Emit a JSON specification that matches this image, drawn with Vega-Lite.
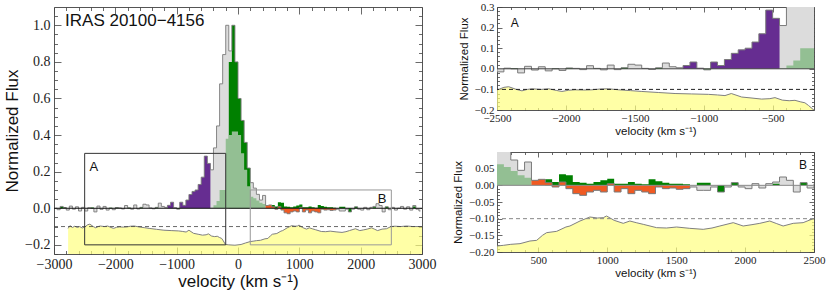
{
"$schema": "https://vega.github.io/schema/vega-lite/v6.json",
"padding": {"left": 3, "top": 0, "right": 3, "bottom": 2},
"background": "white",
"spacing": 15,
"config": {
  "view": {"stroke": "#555555", "strokeWidth": 1},
  "axis": {"domain": false, "grid": false, "labelFont": "Liberation Serif", "titleFont": "Liberation Sans", "titleFontWeight": "normal", "labelColor": "#222222", "titleColor": "#111111", "tickColor": "#444444", "labelFlush": false, "labelOverlap": false, "tickWidth": 0.8}
},
"datasets": {
  "spec": [
    {"v":-2975,"obs":0,"gr":0,"sg":0,"pu":0,"orn":0},
    {"v":-2925,"obs":-0.008,"gr":0,"sg":0,"pu":0,"orn":0},
    {"v":-2875,"obs":0.01,"gr":0.008,"sg":0,"pu":0,"orn":0},
    {"v":-2825,"obs":0.004,"gr":0.005,"sg":0,"pu":0,"orn":0},
    {"v":-2775,"obs":-0.01,"gr":0,"sg":0,"pu":0,"orn":0},
    {"v":-2725,"obs":0.012,"gr":0,"sg":0,"pu":0,"orn":0},
    {"v":-2675,"obs":-0.005,"gr":0,"sg":0,"pu":0,"orn":0},
    {"v":-2625,"obs":0.008,"gr":0,"sg":0,"pu":0,"orn":0},
    {"v":-2575,"obs":-0.015,"gr":0,"sg":0,"pu":0,"orn":0},
    {"v":-2525,"obs":0.005,"gr":0,"sg":0,"pu":0,"orn":0},
    {"v":-2475,"obs":-0.015,"gr":0,"sg":0,"pu":0,"orn":0},
    {"v":-2425,"obs":0.003,"gr":0,"sg":0,"pu":0,"orn":0},
    {"v":-2375,"obs":0,"gr":0.004,"sg":0,"pu":0,"orn":0},
    {"v":-2325,"obs":-0.02,"gr":0,"sg":0,"pu":0,"orn":0},
    {"v":-2275,"obs":0.012,"gr":0,"sg":0,"pu":0,"orn":0},
    {"v":-2225,"obs":-0.006,"gr":0,"sg":0,"pu":0,"orn":0},
    {"v":-2175,"obs":0.01,"gr":0,"sg":0,"pu":0,"orn":0},
    {"v":-2125,"obs":-0.01,"gr":0,"sg":0,"pu":0,"orn":0},
    {"v":-2075,"obs":0,"gr":0.003,"sg":0,"pu":0,"orn":0},
    {"v":-2025,"obs":-0.008,"gr":0,"sg":0,"pu":0,"orn":0},
    {"v":-1975,"obs":0.004,"gr":0.004,"sg":0,"pu":0,"orn":0},
    {"v":-1925,"obs":0.002,"gr":0,"sg":0,"pu":0,"orn":0},
    {"v":-1875,"obs":-0.004,"gr":0,"sg":0,"pu":0,"orn":0},
    {"v":-1825,"obs":0.015,"gr":0,"sg":0,"pu":0,"orn":0},
    {"v":-1775,"obs":0.002,"gr":0.003,"sg":0,"pu":0,"orn":0},
    {"v":-1725,"obs":-0.005,"gr":0,"sg":0,"pu":0,"orn":0},
    {"v":-1675,"obs":0.018,"gr":0,"sg":0,"pu":0,"orn":0},
    {"v":-1625,"obs":-0.004,"gr":0,"sg":0,"pu":0,"orn":0},
    {"v":-1575,"obs":0.005,"gr":0.005,"sg":0,"pu":0,"orn":0},
    {"v":-1525,"obs":0.022,"gr":0,"sg":0,"pu":0,"orn":0},
    {"v":-1475,"obs":0.018,"gr":0,"sg":0,"pu":0,"orn":0},
    {"v":-1425,"obs":0.002,"gr":0,"sg":0,"pu":0,"orn":0},
    {"v":-1375,"obs":-0.003,"gr":0,"sg":0,"pu":0,"orn":0},
    {"v":-1325,"obs":0.005,"gr":0.004,"sg":0,"pu":0,"orn":0},
    {"v":-1275,"obs":0.028,"gr":0,"sg":0,"pu":0,"orn":0},
    {"v":-1225,"obs":0.01,"gr":0,"sg":0,"pu":0,"orn":0},
    {"v":-1175,"obs":0.005,"gr":0,"sg":0,"pu":0,"orn":0},
    {"v":-1125,"obs":0.016,"gr":0,"sg":0,"pu":0.016,"orn":0},
    {"v":-1075,"obs":0.033,"gr":0,"sg":0,"pu":0.033,"orn":0},
    {"v":-1025,"obs":0.003,"gr":0,"sg":0,"pu":0.003,"orn":0},
    {"v":-975,"obs":-0.005,"gr":-0.004,"sg":0,"pu":0,"orn":0},
    {"v":-925,"obs":0.033,"gr":0,"sg":0,"pu":0.033,"orn":0},
    {"v":-875,"obs":0.016,"gr":0,"sg":0,"pu":0.016,"orn":0},
    {"v":-825,"obs":0.045,"gr":0,"sg":0,"pu":0.045,"orn":0},
    {"v":-775,"obs":0.075,"gr":0,"sg":0,"pu":0.075,"orn":0},
    {"v":-725,"obs":0.092,"gr":0,"sg":0,"pu":0.092,"orn":0},
    {"v":-675,"obs":0.1,"gr":0,"sg":0,"pu":0.1,"orn":0},
    {"v":-625,"obs":0.13,"gr":0,"sg":0,"pu":0.13,"orn":0},
    {"v":-575,"obs":0.17,"gr":0,"sg":0,"pu":0.17,"orn":0},
    {"v":-525,"obs":0.285,"gr":0,"sg":0,"pu":0.285,"orn":0},
    {"v":-475,"obs":0.245,"gr":0,"sg":0,"pu":0.245,"orn":0},
    {"v":-425,"obs":0.21,"gr":0,"sg":0.003,"pu":0,"orn":0},
    {"v":-375,"obs":0.33,"gr":0,"sg":0.016,"pu":0,"orn":0},
    {"v":-325,"obs":0.45,"gr":0,"sg":0.04,"pu":0,"orn":0},
    {"v":-275,"obs":0.68,"gr":0,"sg":0.1,"pu":0,"orn":0},
    {"v":-225,"obs":0.84,"gr":0,"sg":0.1,"pu":0,"orn":0},
    {"v":-175,"obs":1.0,"gr":0,"sg":0.38,"pu":0,"orn":0},
    {"v":-125,"obs":0.86,"gr":0.8,"sg":0.4,"pu":0,"orn":0},
    {"v":-75,"obs":1.0,"gr":1.0,"sg":0.42,"pu":0,"orn":0},
    {"v":-25,"obs":0.8,"gr":0.8,"sg":0.42,"pu":0,"orn":0},
    {"v":25,"obs":0.6,"gr":0.6,"sg":0.4,"pu":0,"orn":0},
    {"v":75,"obs":0.48,"gr":0.48,"sg":0.3,"pu":0,"orn":0},
    {"v":125,"obs":0.36,"gr":0.36,"sg":0.21,"pu":0,"orn":0},
    {"v":175,"obs":0.22,"gr":0.22,"sg":0.12,"pu":0,"orn":0},
    {"v":225,"obs":0.14,"gr":0,"sg":0.063,"pu":0,"orn":0},
    {"v":275,"obs":0.11,"gr":0,"sg":0.055,"pu":0,"orn":0},
    {"v":325,"obs":0.076,"gr":0,"sg":0.043,"pu":0,"orn":0},
    {"v":375,"obs":0.045,"gr":0,"sg":0.03,"pu":0,"orn":0},
    {"v":425,"obs":0.07,"gr":0,"sg":0.023,"pu":0,"orn":0},
    {"v":475,"obs":0.015,"gr":0,"sg":0,"pu":0,"orn":0.015},
    {"v":525,"obs":0.018,"gr":0,"sg":0,"pu":0,"orn":0.018},
    {"v":575,"obs":0.008,"gr":0.018,"sg":0,"pu":0,"orn":0.008},
    {"v":625,"obs":-0.005,"gr":0.01,"sg":0,"pu":0,"orn":-0.005},
    {"v":675,"obs":0.01,"gr":0.033,"sg":0,"pu":0,"orn":0.01},
    {"v":725,"obs":-0.01,"gr":0.03,"sg":0,"pu":0,"orn":-0.01},
    {"v":775,"obs":-0.025,"gr":0.01,"sg":0,"pu":0,"orn":-0.025},
    {"v":825,"obs":-0.03,"gr":0.008,"sg":0,"pu":0,"orn":-0.03},
    {"v":875,"obs":-0.02,"gr":0.005,"sg":0,"pu":0,"orn":-0.02},
    {"v":925,"obs":-0.015,"gr":0.01,"sg":0,"pu":0,"orn":-0.015},
    {"v":975,"obs":-0.02,"gr":0.015,"sg":0,"pu":0,"orn":-0.02},
    {"v":1025,"obs":0.005,"gr":0.02,"sg":0,"pu":0,"orn":0.005},
    {"v":1075,"obs":-0.02,"gr":0.005,"sg":0,"pu":0,"orn":-0.02},
    {"v":1125,"obs":-0.01,"gr":0.005,"sg":0,"pu":0,"orn":-0.01},
    {"v":1175,"obs":-0.025,"gr":0.01,"sg":0,"pu":0,"orn":-0.025},
    {"v":1225,"obs":-0.015,"gr":0.005,"sg":0,"pu":0,"orn":-0.015},
    {"v":1275,"obs":-0.02,"gr":0.003,"sg":0,"pu":0,"orn":-0.02},
    {"v":1325,"obs":-0.025,"gr":0.018,"sg":0,"pu":0,"orn":-0.025},
    {"v":1375,"obs":-0.005,"gr":0.012,"sg":0,"pu":0,"orn":-0.005},
    {"v":1425,"obs":-0.01,"gr":0.008,"sg":0,"pu":0,"orn":-0.01},
    {"v":1475,"obs":-0.008,"gr":0.005,"sg":0,"pu":0,"orn":-0.008},
    {"v":1525,"obs":-0.012,"gr":0.005,"sg":0,"pu":0,"orn":-0.012},
    {"v":1575,"obs":-0.01,"gr":0.003,"sg":0,"pu":0,"orn":-0.01},
    {"v":1625,"obs":-0.005,"gr":0,"sg":0,"pu":0,"orn":0},
    {"v":1675,"obs":-0.015,"gr":0.008,"sg":0,"pu":0,"orn":0},
    {"v":1725,"obs":-0.015,"gr":0.008,"sg":0,"pu":0,"orn":0},
    {"v":1775,"obs":-0.005,"gr":0,"sg":0,"pu":0,"orn":0},
    {"v":1825,"obs":-0.02,"gr":-0.02,"sg":0,"pu":0,"orn":0},
    {"v":1875,"obs":-0.005,"gr":0,"sg":0,"pu":0,"orn":0},
    {"v":1925,"obs":0.008,"gr":0.008,"sg":0,"pu":0,"orn":0},
    {"v":1975,"obs":-0.005,"gr":0,"sg":0,"pu":0,"orn":0},
    {"v":2025,"obs":-0.01,"gr":0,"sg":0,"pu":0,"orn":0},
    {"v":2075,"obs":0.005,"gr":0,"sg":0,"pu":0,"orn":0},
    {"v":2125,"obs":-0.008,"gr":0,"sg":0,"pu":0,"orn":0},
    {"v":2175,"obs":0.005,"gr":0,"sg":0,"pu":0,"orn":0},
    {"v":2225,"obs":0.01,"gr":0.005,"sg":0,"pu":0,"orn":0},
    {"v":2275,"obs":0.025,"gr":0,"sg":0,"pu":0,"orn":0},
    {"v":2325,"obs":0.015,"gr":0,"sg":0,"pu":0,"orn":0},
    {"v":2375,"obs":-0.02,"gr":0,"sg":0,"pu":0,"orn":0},
    {"v":2425,"obs":0.008,"gr":0.008,"sg":0,"pu":0,"orn":0},
    {"v":2475,"obs":-0.008,"gr":0,"sg":0,"pu":0,"orn":0},
    {"v":2525,"obs":0.005,"gr":0,"sg":0,"pu":0,"orn":0},
    {"v":2575,"obs":-0.01,"gr":0,"sg":0,"pu":0,"orn":0},
    {"v":2625,"obs":0,"gr":0,"sg":0,"pu":0,"orn":0},
    {"v":2675,"obs":0.01,"gr":0,"sg":0,"pu":0,"orn":0},
    {"v":2725,"obs":-0.005,"gr":0,"sg":0,"pu":0,"orn":0},
    {"v":2775,"obs":0.008,"gr":0,"sg":0,"pu":0,"orn":0},
    {"v":2825,"obs":-0.01,"gr":0,"sg":0,"pu":0,"orn":0},
    {"v":2875,"obs":0.015,"gr":0.01,"sg":0,"pu":0,"orn":0},
    {"v":2925,"obs":-0.005,"gr":0,"sg":0,"pu":0,"orn":0},
    {"v":2975,"obs":-0.015,"gr":0,"sg":0,"pu":0,"orn":0}
  ],
  "noise": [
    {"v":-2770,"n":-0.11},{"v":-2740,"n":-0.095},{"v":-2700,"n":-0.105},{"v":-2660,"n":-0.098},
    {"v":-2620,"n":-0.105},{"v":-2580,"n":-0.1},{"v":-2540,"n":-0.108},{"v":-2488,"n":-0.1},
    {"v":-2450,"n":-0.09},{"v":-2415,"n":-0.087},{"v":-2360,"n":-0.1},{"v":-2319,"n":-0.107},
    {"v":-2280,"n":-0.1},{"v":-2246,"n":-0.097},{"v":-2180,"n":-0.1},{"v":-2125,"n":-0.097},
    {"v":-2070,"n":-0.105},{"v":-2029,"n":-0.11},{"v":-1980,"n":-0.104},{"v":-1933,"n":-0.102},
    {"v":-1870,"n":-0.103},{"v":-1812,"n":-0.102},{"v":-1750,"n":-0.098},{"v":-1691,"n":-0.097},
    {"v":-1618,"n":-0.102},{"v":-1530,"n":-0.106},{"v":-1449,"n":-0.11},{"v":-1330,"n":-0.115},
    {"v":-1208,"n":-0.12},{"v":-1090,"n":-0.122},{"v":-966,"n":-0.124},{"v":-900,"n":-0.127},
    {"v":-846,"n":-0.13},{"v":-800,"n":-0.12},{"v":-725,"n":-0.137},{"v":-650,"n":-0.142},
    {"v":-580,"n":-0.147},{"v":-520,"n":-0.145},{"v":-483,"n":-0.14},{"v":-430,"n":-0.152},
    {"v":-380,"n":-0.155},{"v":-338,"n":-0.153},{"v":-300,"n":-0.16},{"v":-266,"n":-0.165},
    {"v":-240,"n":-0.178},{"v":-205,"n":-0.198},{"v":-150,"n":-0.2},{"v":-50,"n":-0.202},
    {"v":50,"n":-0.198},{"v":120,"n":-0.19},{"v":200,"n":-0.182},{"v":246,"n":-0.18},
    {"v":300,"n":-0.177},{"v":367,"n":-0.175},{"v":439,"n":-0.167},{"v":488,"n":-0.165},
    {"v":530,"n":-0.15},{"v":560,"n":-0.142},{"v":633,"n":-0.138},{"v":700,"n":-0.125},
    {"v":729,"n":-0.122},{"v":802,"n":-0.107},{"v":874,"n":-0.095},{"v":930,"n":-0.098},
    {"v":971,"n":-0.097},{"v":995,"n":-0.092},{"v":1050,"n":-0.105},{"v":1116,"n":-0.114},
    {"v":1164,"n":-0.107},{"v":1210,"n":-0.112},{"v":1261,"n":-0.117},{"v":1358,"n":-0.127},
    {"v":1430,"n":-0.128},{"v":1503,"n":-0.125},{"v":1599,"n":-0.129},{"v":1696,"n":-0.132},
    {"v":1760,"n":-0.128},{"v":1817,"n":-0.122},{"v":1914,"n":-0.112},{"v":1986,"n":-0.122},
    {"v":2050,"n":-0.118},{"v":2107,"n":-0.114},{"v":2179,"n":-0.107},{"v":2230,"n":-0.115},
    {"v":2276,"n":-0.122},{"v":2349,"n":-0.114},{"v":2421,"n":-0.112},{"v":2494,"n":-0.1},
    {"v":2560,"n":-0.098},{"v":2650,"n":-0.1},{"v":2750,"n":-0.097},{"v":2850,"n":-0.1},
    {"v":3000,"n":-0.1}
  ],
  "boxes": [
    {"box":"A","v0":-2500,"v1":-200,"f0":-0.2,"f1":0.3},
    {"box":"B","v0":200,"v1":2500,"f0":-0.2,"f1":0.1}
  ]
},
"hconcat": [
  {
    "width": 368, "height": 247,
    "resolve": {"axis": {"x": "independent", "y": "independent"}},
    "layer": [
      {"data": {"name": "noise"},
       "mark": {"type": "area", "color": "#ffff80", "clip": true, "line": {"color": "#808080", "strokeWidth": 1}},
       "encoding": {
         "x": {"field": "v", "type": "quantitative", "scale": {"domain": [-3000, 3000], "nice": false, "zero": false},
               "axis": {"orient": "bottom", "values": [-3000,-2000,-1000,0,1000,2000,3000], "format": "d", "tickSize": -7, "labelPadding": 10, "labelFontSize": 14, "title": "velocity (km s⁻¹)", "titleFontSize": 17, "titlePadding": 2}},
         "y": {"field": "n", "type": "quantitative", "scale": {"domain": [-0.25, 1.1], "nice": false, "zero": false},
               "axis": {"orient": "left", "values": [-0.2,0,0.2,0.4,0.6,0.8,1.0], "format": ".1f", "tickSize": -7, "labelPadding": 11, "labelFontSize": 14, "title": "Normalized Flux", "titleFontSize": 17, "titlePadding": 3}},
         "y2": {"datum": -1}}},
      {"data": {"values": [{}]},
       "mark": {"type": "rule", "strokeDash": [4, 3], "color": "#444444", "strokeWidth": 0.8},
       "encoding": {"y": {"datum": -0.1, "axis": null}}},
      {"data": {"name": "spec"},
       "mark": {"type": "area", "interpolate": "step", "color": "#dcdcdc", "clip": true},
       "encoding": {
         "x": {"field": "v", "type": "quantitative", "axis": {"orient": "top", "values": [-3000,-2000,-1000,0,1000,2000,3000], "labels": false, "tickSize": -7, "title": null}},
         "y": {"field": "obs", "type": "quantitative", "axis": {"orient": "right", "values": [-0.2,0,0.2,0.4,0.6,0.8,1.0], "labels": false, "tickSize": -7, "title": null}},
         "y2": {"datum": 0}}},
      {"data": {"name": "spec"},
       "mark": {"type": "area", "interpolate": "step", "color": "#008000", "clip": true},
       "encoding": {
         "x": {"field": "v", "type": "quantitative", "axis": {"orient": "bottom", "values": [-2800,-2600,-2400,-2200,-1800,-1600,-1400,-1200,-800,-600,-400,-200,200,400,600,800,1200,1400,1600,1800,2200,2400,2600,2800], "labels": false, "tickSize": -3.5, "title": null}},
         "y": {"field": "gr", "type": "quantitative", "axis": {"orient": "left", "values": [-0.25,-0.15,-0.1,-0.05,0.05,0.1,0.15,0.25,0.3,0.35,0.45,0.5,0.55,0.65,0.7,0.75,0.85,0.9,0.95,1.05], "labels": false, "tickSize": -3.5, "title": null}},
         "y2": {"datum": 0}}},
      {"data": {"name": "spec"},
       "mark": {"type": "area", "interpolate": "step", "color": "#93bf93", "clip": true},
       "encoding": {
         "x": {"field": "v", "type": "quantitative", "axis": {"orient": "top", "values": [-2800,-2600,-2400,-2200,-1800,-1600,-1400,-1200,-800,-600,-400,-200,200,400,600,800,1200,1400,1600,1800,2200,2400,2600,2800], "labels": false, "tickSize": -3.5, "title": null}},
         "y": {"field": "sg", "type": "quantitative", "axis": {"orient": "right", "values": [-0.25,-0.15,-0.1,-0.05,0.05,0.1,0.15,0.25,0.3,0.35,0.45,0.5,0.55,0.65,0.7,0.75,0.85,0.9,0.95,1.05], "labels": false, "tickSize": -3.5, "title": null}},
         "y2": {"datum": 0}}},
      {"data": {"name": "spec"},
       "mark": {"type": "area", "interpolate": "step", "color": "#662d91", "clip": true},
       "encoding": {"x": {"field": "v", "type": "quantitative", "axis": null}, "y": {"field": "pu", "type": "quantitative", "axis": null}, "y2": {"datum": 0}}},
      {"data": {"name": "spec"},
       "mark": {"type": "area", "interpolate": "step", "color": "#f05a22", "clip": true},
       "encoding": {"x": {"field": "v", "type": "quantitative", "axis": null}, "y": {"field": "orn", "type": "quantitative", "axis": null}, "y2": {"datum": 0}}},
      {"data": {"name": "spec"},
       "mark": {"type": "line", "interpolate": "step", "color": "#7a7a7a", "strokeWidth": 0.9, "clip": true},
       "encoding": {"x": {"field": "v", "type": "quantitative", "axis": null}, "y": {"field": "obs", "type": "quantitative", "axis": null}}},
      {"data": {"values": [{}]},
       "mark": {"type": "rule", "color": "#111111", "strokeWidth": 1},
       "encoding": {"y": {"datum": 0, "axis": null}}},
      {"data": {"name": "boxes"},
       "mark": {"type": "rect", "fillOpacity": 0, "strokeWidth": 1, "clip": true},
       "encoding": {
         "x": {"field": "v0", "type": "quantitative", "axis": null}, "x2": {"field": "v1"},
         "y": {"field": "f0", "type": "quantitative", "axis": null}, "y2": {"field": "f1"},
         "stroke": {"field": "box", "type": "nominal", "scale": {"domain": ["A", "B"], "range": ["#333333", "#999999"]}, "legend": null}}},
      {"data": {"values": [{}]},
       "mark": {"type": "text", "text": "IRAS 20100−4156", "font": "Liberation Sans", "fontSize": 17, "align": "left", "baseline": "middle", "color": "#111111"},
       "encoding": {"x": {"datum": -2820, "axis": null}, "y": {"datum": 1.025, "axis": null}}},
      {"data": {"values": [{}]},
       "mark": {"type": "text", "text": "A", "font": "Liberation Sans", "fontSize": 13, "align": "center", "baseline": "middle", "color": "#111111"},
       "encoding": {"x": {"datum": -2350, "axis": null}, "y": {"datum": 0.225, "axis": null}}},
      {"data": {"values": [{}]},
       "mark": {"type": "text", "text": "B", "font": "Liberation Sans", "fontSize": 13, "align": "center", "baseline": "middle", "color": "#111111"},
       "encoding": {"x": {"datum": 2350, "axis": null}, "y": {"datum": 0.05, "axis": null}}}
    ]
  },
  {
    "spacing": 14,
    "vconcat": [
      {
        "width": 317, "height": 103,
        "resolve": {"axis": {"x": "independent", "y": "independent"}},
        "layer": [
          {"data": {"name": "noise"},
           "mark": {"type": "area", "color": "#ffff80", "clip": true, "line": {"color": "#808080", "strokeWidth": 1}},
           "encoding": {
             "x": {"field": "v", "type": "quantitative", "scale": {"domain": [-2500, -200], "nice": false, "zero": false},
                   "axis": {"orient": "bottom", "values": [-2500,-2000,-1500,-1000,-500], "format": "d", "tickSize": -5, "labelPadding": 7, "labelFontSize": 11, "title": "velocity (km s⁻¹)", "titleFontSize": 11.5, "titlePadding": 2}},
             "y": {"field": "n", "type": "quantitative", "scale": {"domain": [-0.2, 0.3], "nice": false, "zero": false},
                   "axis": {"orient": "left", "values": [-0.2,-0.1,0,0.1,0.2,0.3], "format": ".1f", "tickSize": -5, "labelPadding": 8, "labelFontSize": 11, "title": "Normalized Flux", "titleFontSize": 11.5, "titlePadding": 5}},
             "y2": {"datum": -1}}},
          {"data": {"values": [{}]},
           "mark": {"type": "rule", "strokeDash": [4, 3], "color": "#222222", "strokeWidth": 1},
           "encoding": {"y": {"datum": -0.1, "axis": null}}},
          {"data": {"name": "spec"},
           "mark": {"type": "area", "interpolate": "step", "color": "#dcdcdc", "clip": true},
           "encoding": {
             "x": {"field": "v", "type": "quantitative", "axis": {"orient": "top", "values": [-2500,-2000,-1500,-1000,-500], "labels": false, "tickSize": -5, "title": null}},
             "y": {"field": "obs", "type": "quantitative", "axis": {"orient": "right", "values": [-0.2,-0.1,0,0.1,0.2,0.3], "labels": false, "tickSize": -5, "title": null}},
             "y2": {"datum": 0}}},
          {"data": {"name": "spec"},
           "mark": {"type": "area", "interpolate": "step", "color": "#008000", "clip": true},
           "encoding": {
             "x": {"field": "v", "type": "quantitative", "axis": {"orient": "bottom", "values": [-2400,-2300,-2200,-2100,-1900,-1800,-1700,-1600,-1400,-1300,-1200,-1100,-900,-800,-700,-600,-400,-300], "labels": false, "tickSize": -2.5, "title": null}},
             "y": {"field": "gr", "type": "quantitative", "axis": {"orient": "left", "values": [-0.18,-0.16,-0.14,-0.12,-0.08,-0.06,-0.04,-0.02,0.02,0.04,0.06,0.08,0.12,0.14,0.16,0.18,0.22,0.24,0.26,0.28], "labels": false, "tickSize": -2.5, "title": null}},
             "y2": {"datum": 0}}},
          {"data": {"name": "spec"},
           "mark": {"type": "area", "interpolate": "step", "color": "#93bf93", "clip": true},
           "encoding": {
             "x": {"field": "v", "type": "quantitative", "axis": {"orient": "top", "values": [-2400,-2300,-2200,-2100,-1900,-1800,-1700,-1600,-1400,-1300,-1200,-1100,-900,-800,-700,-600,-400,-300], "labels": false, "tickSize": -2.5, "title": null}},
             "y": {"field": "sg", "type": "quantitative", "axis": {"orient": "right", "values": [-0.18,-0.16,-0.14,-0.12,-0.08,-0.06,-0.04,-0.02,0.02,0.04,0.06,0.08,0.12,0.14,0.16,0.18,0.22,0.24,0.26,0.28], "labels": false, "tickSize": -2.5, "title": null}},
             "y2": {"datum": 0}}},
          {"data": {"name": "spec"},
           "mark": {"type": "area", "interpolate": "step", "color": "#662d91", "clip": true},
           "encoding": {"x": {"field": "v", "type": "quantitative", "axis": null}, "y": {"field": "pu", "type": "quantitative", "axis": null}, "y2": {"datum": 0}}},
          {"data": {"name": "spec"},
           "mark": {"type": "area", "interpolate": "step", "color": "#f05a22", "clip": true},
           "encoding": {"x": {"field": "v", "type": "quantitative", "axis": null}, "y": {"field": "orn", "type": "quantitative", "axis": null}, "y2": {"datum": 0}}},
          {"data": {"name": "spec"},
           "mark": {"type": "line", "interpolate": "step", "color": "#7a7a7a", "strokeWidth": 1, "clip": true},
           "encoding": {"x": {"field": "v", "type": "quantitative", "axis": null}, "y": {"field": "obs", "type": "quantitative", "axis": null}}},
          {"data": {"values": [{}]},
           "mark": {"type": "rule", "color": "#444444", "strokeWidth": 1},
           "encoding": {"y": {"datum": 0, "axis": null}}},
          {"data": {"values": [{}]},
           "mark": {"type": "text", "text": "A", "font": "Liberation Sans", "fontSize": 12, "align": "center", "baseline": "middle", "color": "#111111"},
           "encoding": {"x": {"datum": -2372, "axis": null}, "y": {"datum": 0.22, "axis": null}}}
        ]
      },
      {
        "width": 317, "height": 100,
        "resolve": {"axis": {"x": "independent", "y": "independent"}},
        "layer": [
          {"data": {"name": "noise"},
           "mark": {"type": "area", "color": "#ffff80", "clip": true, "line": {"color": "#808080", "strokeWidth": 1}},
           "encoding": {
             "x": {"field": "v", "type": "quantitative", "scale": {"domain": [200, 2500], "nice": false, "zero": false},
                   "axis": {"orient": "bottom", "values": [500,1000,1500,2000,2500], "format": "d", "tickSize": -5, "labelPadding": 7, "labelFontSize": 11, "title": "velocity (km s⁻¹)", "titleFontSize": 11.5, "titlePadding": 2}},
             "y": {"field": "n", "type": "quantitative", "scale": {"domain": [-0.2, 0.1], "nice": false, "zero": false},
                   "axis": {"orient": "left", "values": [-0.2,-0.15,-0.1,-0.05,0,0.05], "format": ".2f", "tickSize": -5, "labelPadding": 8, "labelFontSize": 11, "title": "Normalized Flux", "titleFontSize": 11.5, "titlePadding": 5}},
             "y2": {"datum": -1}}},
          {"data": {"values": [{}]},
           "mark": {"type": "rule", "strokeDash": [4, 3], "color": "#888888", "strokeWidth": 1},
           "encoding": {"y": {"datum": -0.1, "axis": null}}},
          {"data": {"name": "spec"},
           "mark": {"type": "area", "interpolate": "step", "color": "#dcdcdc", "clip": true},
           "encoding": {
             "x": {"field": "v", "type": "quantitative", "axis": {"orient": "top", "values": [500,1000,1500,2000,2500], "labels": false, "tickSize": -5, "title": null}},
             "y": {"field": "obs", "type": "quantitative", "axis": {"orient": "right", "values": [-0.2,-0.15,-0.1,-0.05,0,0.05,0.1], "labels": false, "tickSize": -5, "title": null}},
             "y2": {"datum": 0}}},
          {"data": {"name": "spec"},
           "mark": {"type": "area", "interpolate": "step", "color": "#008000", "clip": true},
           "encoding": {
             "x": {"field": "v", "type": "quantitative", "axis": {"orient": "bottom", "values": [300,400,600,700,800,900,1100,1200,1300,1400,1600,1700,1800,1900,2100,2200,2300,2400], "labels": false, "tickSize": -2.5, "title": null}},
             "y": {"field": "gr", "type": "quantitative", "axis": {"orient": "left", "values": [-0.19,-0.18,-0.17,-0.16,-0.14,-0.13,-0.12,-0.11,-0.09,-0.08,-0.07,-0.06,-0.04,-0.03,-0.02,-0.01,0.01,0.02,0.03,0.04,0.06,0.07,0.08,0.09], "labels": false, "tickSize": -2.5, "title": null}},
             "y2": {"datum": 0}}},
          {"data": {"name": "spec"},
           "mark": {"type": "area", "interpolate": "step", "color": "#93bf93", "clip": true},
           "encoding": {
             "x": {"field": "v", "type": "quantitative", "axis": {"orient": "top", "values": [300,400,600,700,800,900,1100,1200,1300,1400,1600,1700,1800,1900,2100,2200,2300,2400], "labels": false, "tickSize": -2.5, "title": null}},
             "y": {"field": "sg", "type": "quantitative", "axis": {"orient": "right", "values": [-0.19,-0.18,-0.17,-0.16,-0.14,-0.13,-0.12,-0.11,-0.09,-0.08,-0.07,-0.06,-0.04,-0.03,-0.02,-0.01,0.01,0.02,0.03,0.04,0.06,0.07,0.08,0.09], "labels": false, "tickSize": -2.5, "title": null}},
             "y2": {"datum": 0}}},
          {"data": {"name": "spec"},
           "mark": {"type": "area", "interpolate": "step", "color": "#662d91", "clip": true},
           "encoding": {"x": {"field": "v", "type": "quantitative", "axis": null}, "y": {"field": "pu", "type": "quantitative", "axis": null}, "y2": {"datum": 0}}},
          {"data": {"name": "spec"},
           "mark": {"type": "area", "interpolate": "step", "color": "#f05a22", "clip": true},
           "encoding": {"x": {"field": "v", "type": "quantitative", "axis": null}, "y": {"field": "orn", "type": "quantitative", "axis": null}, "y2": {"datum": 0}}},
          {"data": {"name": "spec"},
           "mark": {"type": "line", "interpolate": "step", "color": "#7a7a7a", "strokeWidth": 1, "clip": true},
           "encoding": {"x": {"field": "v", "type": "quantitative", "axis": null}, "y": {"field": "obs", "type": "quantitative", "axis": null}}},
          {"data": {"values": [{}]},
           "mark": {"type": "rule", "color": "#888888", "strokeWidth": 1},
           "encoding": {"y": {"datum": 0, "axis": null}}},
          {"data": {"values": [{}]},
           "mark": {"type": "text", "text": "B", "font": "Liberation Sans", "fontSize": 12, "align": "center", "baseline": "middle", "color": "#111111"},
           "encoding": {"x": {"datum": 2421, "axis": null}, "y": {"datum": 0.06, "axis": null}}}
        ]
      }
    ]
  }
]
}
